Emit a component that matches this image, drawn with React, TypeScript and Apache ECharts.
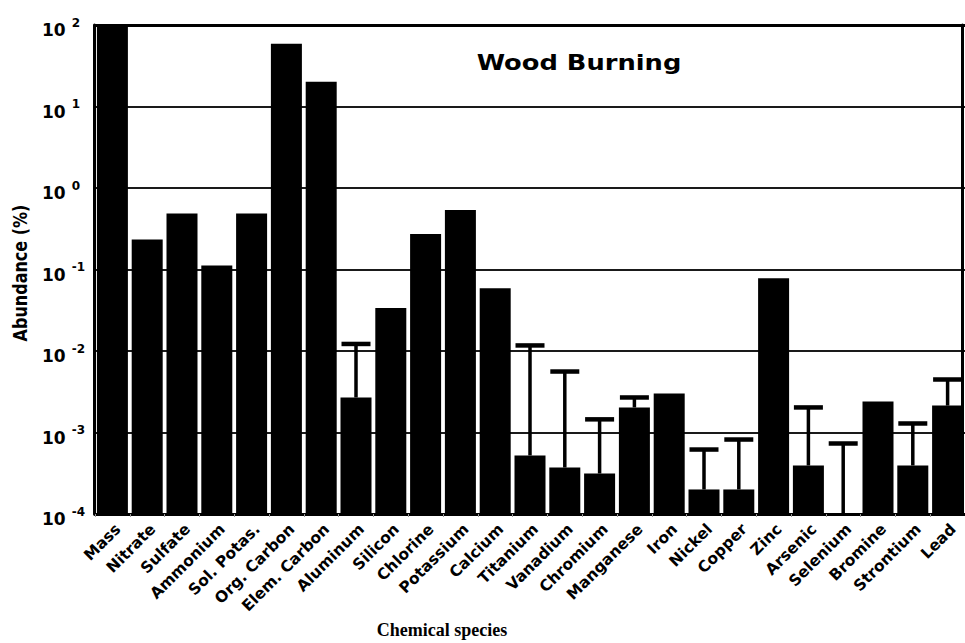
import React, { useEffect, useRef } from "react";
import * as echarts from "echarts";

const categories = [
  "Mass", "Nitrate", "Sulfate", "Ammonium", "Sol. Potas.", "Org. Carbon", "Elem. Carbon",
  "Aluminum", "Silicon", "Chlorine", "Potassium", "Calcium", "Titanium", "Vanadium",
  "Chromium", "Manganese", "Iron", "Nickel", "Copper", "Zinc", "Arsenic", "Selenium",
  "Bromine", "Strontium", "Lead",
];

// Abundance (%) — bar heights
const abundance: (number | null)[] = [
  100, 0.233, 0.486, 0.112, 0.486, 59, 20.1,
  0.00269, 0.0337, 0.272, 0.536, 0.0589, 0.000523, 0.000372,
  0.000314, 0.00203, 0.00301, 0.0002, 0.0002, 0.0782, 0.000394, null,
  0.0024, 0.000394, 0.00214,
];

// Upper end of uncertainty bars (null = none drawn)
const upperError: (number | null)[] = [
  null, null, null, null, null, null, null,
  0.0122, null, null, null, null, 0.0117, 0.0056,
  0.00145, 0.00269, null, 0.000618, 0.00082, null, 0.00203, 0.000733,
  null, 0.00129, 0.00447,
];

const yMin = 1e-4;
const yMax = 100;

const titleText = "Wood Burning";
const yAxisTitle = "Abundance (%)";
const xAxisTitle = "Chemical species";

const SANS = "DejaVu Sans";

export default function App() {
  const ref = useRef<HTMLDivElement>(null);

  useEffect(() => {
    document.body.style.margin = "0";
    if (!ref.current) return;
    const chart = echarts.init(ref.current, null, { renderer: "svg" });

    const barData: number[][] = [];
    abundance.forEach((v, i) => {
      if (v != null) barData.push([i, v]);
    });

    const errData: number[][] = [];
    upperError.forEach((hi, i) => {
      if (hi != null) {
        const lo = abundance[i] != null ? (abundance[i] as number) : yMin;
        errData.push([i, lo, hi]);
      }
    });

    const option: any = {
      animation: false,
      backgroundColor: "#fff",
      grid: { left: 95, right: -1, top: 25, bottom: 129, containLabel: false },
      xAxis: [
        {
          type: "category",
          data: categories,
          position: "bottom",
          axisLine: { show: true, lineStyle: { color: "#000", width: 3 } },
          axisTick: { show: true, length: 3, lineStyle: { color: "#999", width: 1 } },
          axisLabel: {
            interval: 0,
            rotate: 45,
            margin: 7,
            verticalAlign: "top",
            color: "#000",
            fontFamily: SANS,
            fontWeight: "bold",
            fontSize: 15.5,
          },
          splitLine: { show: false },
        },
        {
          type: "category",
          data: categories,
          position: "top",
          axisLine: { show: true, lineStyle: { color: "#000", width: 3 } },
          axisTick: { show: false },
          axisLabel: { show: false },
          splitLine: { show: false },
        },
      ],
      yAxis: [
        {
          type: "log",
          logBase: 10,
          min: yMin,
          max: yMax,
          position: "left",
          offset: 1,
          axisLine: { show: true, lineStyle: { color: "#000", width: 3 } },
          axisTick: { show: false },
          splitLine: { show: true, lineStyle: { color: "#1a1a1a", width: 1.8 } },
          axisLabel: {
            align: "left",
            margin: 52,
            formatter: (v: number) => {
              const e = Math.round(Math.log10(v));
              return `{b|10}{e|${e}}`;
            },
            rich: {
              b: {
                fontFamily: SANS,
                fontWeight: "bold",
                fontSize: 17,
                color: "#000",
                padding: [10, 0, 0, 0],
                verticalAlign: "bottom",
              },
              e: {
                fontFamily: SANS,
                fontWeight: "bold",
                fontSize: 12,
                color: "#000",
                padding: [5, 0, 0, 6],
                verticalAlign: "top",
              },
            },
          },
        },
        {
          type: "log",
          logBase: 10,
          min: yMin,
          max: yMax,
          position: "right",
          offset: -3,
          axisLine: { show: true, lineStyle: { color: "#000", width: 3 } },
          axisTick: { show: false },
          axisLabel: { show: false },
          splitLine: { show: false },
        },
      ],
      series: [
        {
          type: "custom",
          name: "Abundance",
          data: barData,
          encode: { x: 0, y: 1 },
          z: 3,
          renderItem: (params: any, api: any) => {
            const i = api.value(0);
            const v = api.value(1);
            const pTop = api.coord([i, v]);
            const pBase = api.coord([i, yMin]);
            const w = 31;
            return {
              type: "rect",
              shape: { x: pTop[0] - w / 2, y: pTop[1], width: w, height: pBase[1] - pTop[1] },
              style: { fill: "#000" },
            };
          },
        },
        {
          type: "custom",
          name: "Uncertainty",
          data: errData,
          encode: { x: 0, y: [1, 2] },
          z: 4,
          renderItem: (params: any, api: any) => {
            const i = api.value(0);
            const lo = api.value(1);
            const hi = api.value(2);
            const pHi = api.coord([i, hi]);
            const pLo = api.coord([i, lo]);
            const capW = 29;
            const capH = 4.5;
            const stemW = 3.5;
            return {
              type: "group",
              children: [
                {
                  type: "rect",
                  shape: { x: pHi[0] - stemW / 2, y: pHi[1], width: stemW, height: pLo[1] - pHi[1] },
                  style: { fill: "#000" },
                },
                {
                  type: "rect",
                  shape: { x: pHi[0] - capW / 2, y: pHi[1] - capH / 2, width: capW, height: capH },
                  style: { fill: "#000" },
                },
              ],
            };
          },
        },
      ],
      graphic: [
        {
          type: "text",
          x: 579,
          y: 63,
          scaleX: 1.17,
          style: {
            text: titleText,
            fontFamily: SANS,
            fontWeight: "bold",
            fontSize: 22,
            fill: "#000",
            align: "center",
            verticalAlign: "middle",
          },
        },
        {
          type: "text",
          x: 20,
          y: 273,
          rotation: Math.PI / 2,
          scaleX: 0.8,
          style: {
            text: yAxisTitle,
            fontFamily: SANS,
            fontWeight: "bold",
            fontSize: 20,
            fill: "#000",
            align: "center",
            verticalAlign: "middle",
          },
        },
        {
          type: "text",
          x: 442,
          y: 630,
          style: {
            text: xAxisTitle,
            fontFamily: "Liberation Serif",
            fontWeight: "bold",
            fontSize: 18,
            fill: "#000",
            align: "center",
            verticalAlign: "middle",
          },
        },
      ],
    };

    chart.setOption(option);
    return () => chart.dispose();
  }, []);

  return <div ref={ref} style={{ width: 965, height: 643 }} />;
}
